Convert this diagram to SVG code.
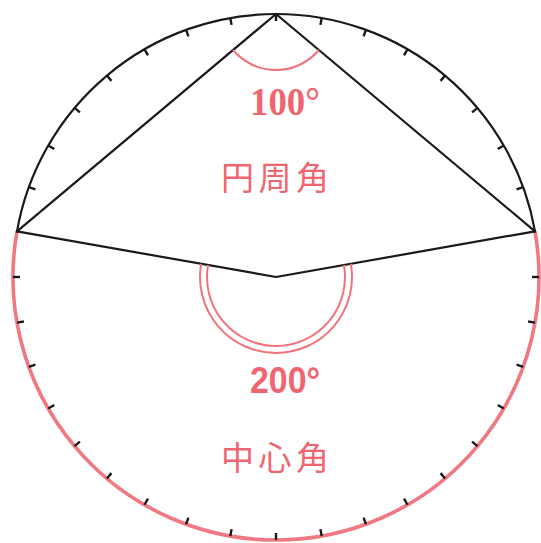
<svg xmlns="http://www.w3.org/2000/svg" xmlns:xlink="http://www.w3.org/1999/xlink" width="541" height="543" viewBox="0 0 541 543">
<style>
.blk{fill:none;stroke:#1a1a1a;stroke-width:2.2;stroke-linecap:round;stroke-linejoin:round}
.red{fill:none;stroke:#f0737c;stroke-width:2}
.redthick{fill:none;stroke:#f07880;stroke-width:3.6}
.tick{stroke:#1a1a1a;stroke-width:2.4}
.num{fill:#ef6670;font-weight:bold}
.cjk{fill:#ef6670;font-family:"Noto Sans CJK JP","Noto Sans CJK SC",sans-serif;font-size:33px}
</style>
<defs>
<line id="t" class="tick" x1="532" y1="277" x2="539" y2="277"/>
</defs>
<rect width="541" height="543" fill="#fff"/>
<g id="circle">
<path class="redthick" d="M17,231.33 A263,263 0 1 0 535,231.33"/>
<path class="blk" d="M17,231.33 A263,263 0 0 1 535,231.33"/>
</g>
<g id="ticks">
<use xlink:href="#t"/>
<use xlink:href="#t" transform="rotate(-20 276 277)"/>
<use xlink:href="#t" transform="rotate(-30 276 277)"/>
<use xlink:href="#t" transform="rotate(-40 276 277)"/>
<use xlink:href="#t" transform="rotate(-50 276 277)"/>
<use xlink:href="#t" transform="rotate(-60 276 277)"/>
<use xlink:href="#t" transform="rotate(-70 276 277)"/>
<use xlink:href="#t" transform="rotate(-80 276 277)"/>
<use xlink:href="#t" transform="rotate(-90 276 277)"/>
<use xlink:href="#t" transform="rotate(-100 276 277)"/>
<use xlink:href="#t" transform="rotate(-110 276 277)"/>
<use xlink:href="#t" transform="rotate(-120 276 277)"/>
<use xlink:href="#t" transform="rotate(-130 276 277)"/>
<use xlink:href="#t" transform="rotate(-140 276 277)"/>
<use xlink:href="#t" transform="rotate(-150 276 277)"/>
<use xlink:href="#t" transform="rotate(-160 276 277)"/>
<use xlink:href="#t" transform="rotate(180 276 277)"/>
<use xlink:href="#t" transform="rotate(170 276 277)"/>
<use xlink:href="#t" transform="rotate(160 276 277)"/>
<use xlink:href="#t" transform="rotate(150 276 277)"/>
<use xlink:href="#t" transform="rotate(140 276 277)"/>
<use xlink:href="#t" transform="rotate(130 276 277)"/>
<use xlink:href="#t" transform="rotate(120 276 277)"/>
<use xlink:href="#t" transform="rotate(110 276 277)"/>
<use xlink:href="#t" transform="rotate(100 276 277)"/>
<use xlink:href="#t" transform="rotate(90 276 277)"/>
<use xlink:href="#t" transform="rotate(80 276 277)"/>
<use xlink:href="#t" transform="rotate(70 276 277)"/>
<use xlink:href="#t" transform="rotate(60 276 277)"/>
<use xlink:href="#t" transform="rotate(50 276 277)"/>
<use xlink:href="#t" transform="rotate(40 276 277)"/>
<use xlink:href="#t" transform="rotate(30 276 277)"/>
<use xlink:href="#t" transform="rotate(20 276 277)"/>
<use xlink:href="#t" transform="rotate(10 276 277)"/>
</g>
<g id="connectors">
<polyline class="blk" points="17,231.33 276,14 535,231.33"/>
<polyline class="blk" points="17,231.33 276,277 535,231.33"/>
</g>
<g id="inscribed-angle">
<path class="red" d="M233.1,50 A56,56 0 0 0 318.9,50"/>
<text class="num" x="250" y="115" font-family="'Liberation Serif',serif" font-size="40" textLength="70" lengthAdjust="spacingAndGlyphs">100°</text>
<text class="cjk" x="221" y="190" textLength="108" lengthAdjust="spacing">円周角</text>
</g>
<g id="central-angle">
<path class="red" d="M208.05,265.02 A69,69 0 1 0 343.95,265.02"/>
<path class="red" d="M201.15,263.8 A76,76 0 1 0 350.85,263.8"/>
<text class="num" x="250" y="393" font-family="'Liberation Sans',sans-serif" font-size="36" textLength="70" lengthAdjust="spacingAndGlyphs">200°</text>
<text class="cjk" x="221" y="470" textLength="108" lengthAdjust="spacing">中心角</text>
</g>
</svg>
